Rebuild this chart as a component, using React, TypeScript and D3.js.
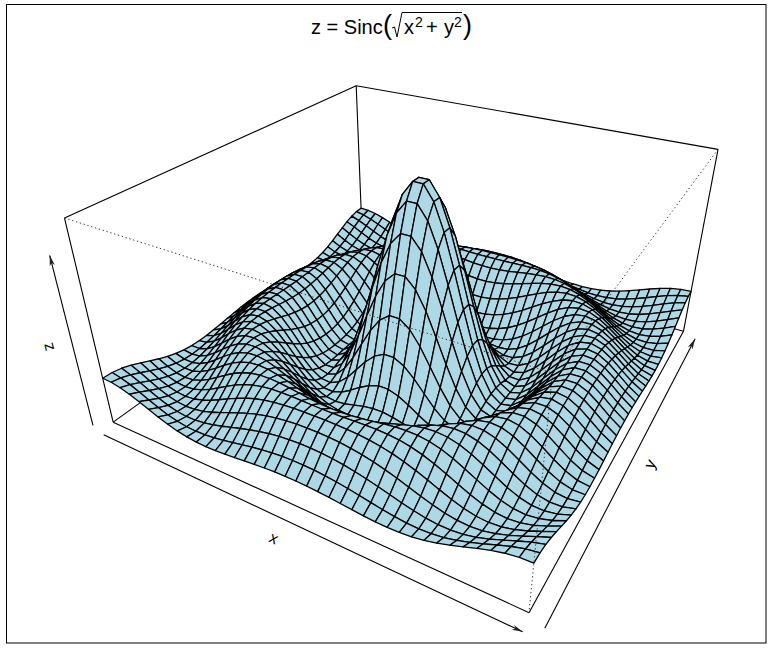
import React from "react";
import * as d3 from "d3";

// Sample positions along x and y (40 points across -10..10)
const gridValues = [-10,-9.487,-8.974,-8.462,-7.949,-7.436,-6.923,-6.41,-5.897,-5.385,-4.872,-4.359,-3.846,-3.333,-2.821,-2.308,-1.795,-1.282,-0.769,-0.256,0.256,0.769,1.282,1.795,2.308,2.821,3.333,3.846,4.359,4.872,5.385,5.897,6.41,6.923,7.436,7.949,8.462,8.974,9.487,10];

// Surface heights; the surface is mirror symmetric, so one octant is listed,
// row k holds columns k..19 counted outward from the centre.
const zRow0 = [.9782,.8940,.7385,.5354,.3148,.1075,-.0599,-.1697,-.2155,-.2022,-.1444,-.0629,.0205,.0867,.1231,.1251,.0967,.0481,-.0069,-.0547];
const zRow1 = [.8141,.6669,.4752,.2677,.0740,-.0806,-.1794,-.2167,-.1979,-.1374,-.0554,.0267,.0905,.1243,.1241,.0942,.0450,-.0098,-.0567];
const zRow2 = [.5354,.3650,.1822,.0140,-.1167,-.1951,-.2170,-.1881,-.1229,-.0407,.0384,.0976,.1263,.1218,.0891,.0388,-.0155,-.0606];
const zRow3 = [.2235,.0740,-.0599,-.1587,-.2103,-.2121,-.1709,-.1005,-.0192,.0548,.1068,.1280,.1174,.0809,.0294,-.0237,-.0660];
const zRow4 = [-.0373,-.1322,-.1951,-.2172,-.1979,-.1444,-.0704,.0078,.0742,.1164,.1281,.1102,.0694,.0170,-.0341,-.0724];
const zRow5 = [-.1879,-.2155,-.2093,-.1709,-.1080,-.0334,.0384,.0942,.1243,.1251,.0992,.0543,.0019,-.0460,-.0791];
const zRow6 = [-.2121,-.1827,-.1302,-.0629,.0078,.0696,.1119,.1283,.1174,.0837,.0357,-.0155,-.0587,-.0852];
const zRow7 = [-.1374,-.0779,-.0123,.0495,.0976,.1243,.1260,.1038,.0634,.0140,-.0341,-.0709,-.0897];
const zRow8 = [-.0192,.0384,.0867,.1183,.1283,.1158,.0837,.0388,-.0098,-.0526,-.0814,-.0913];
const zRow9 = [.0827,.1142,.1280,.1218,.0967,.0574,.0109,-.0341,-.0693,-.0887,-.0892];
const zRow10 = [.1276,.1241,.1038,.0694,.0263,-.0182,-.0567,-.0825,-.0913,-.0823];
const zRow11 = [.1060,.0752,.0357,-.0069,-.0460,-.0753,-.0901,-.0881,-.0704];
const zRow12 = [.0388,-.0011,-.0390,-.0693,-.0875,-.0906,-.0785,-.0535];
const zRow13 = [-.0365,-.0660,-.0852,-.0913,-.0832,-.0624,-.0323];
const zRow14 = [-.0844,-.0913,-.0856,-.0678,-.0407,-.0084];
const zRow15 = [-.0863,-.0704,-.0456,-.0152,.0162];
const zRow16 = [-.0472,-.0186,.0114,.0388];
const zRow17 = [.0098,.0362,.0569];
const zRow18 = [.0560,.0681];
const zRow19 = [.0707];
const zOctant = [zRow0,zRow1,zRow2,zRow3,zRow4,zRow5,zRow6,zRow7,zRow8,zRow9,zRow10,zRow11,zRow12,zRow13,zRow14,zRow15,zRow16,zRow17,zRow18,zRow19];

const THETA = (30 * Math.PI) / 180;
const PHI = (30 * Math.PI) / 180;
const R_VIEW = Math.sqrt(3);
const D_VIEW = 1;
const EXPAND = 0.5;

const n = gridValues.length;
const zAt = (i: number, j: number) => {
  const a = Math.abs(2 * i - (n - 1));
  const b = Math.abs(2 * j - (n - 1));
  const lo = (Math.min(a, b) - 1) / 2;
  const hi = (Math.max(a, b) - 1) / 2;
  return zOctant[lo][hi - lo];
};
const allZ = d3.range(n).flatMap((i) => d3.range(n).map((j) => zAt(i, j)));

const sx = d3.scaleLinear().domain(d3.extent(gridValues) as [number, number]).range([-1, 1]);
const sz = d3.scaleLinear().domain(d3.extent(allZ) as [number, number]).range([-EXPAND, EXPAND]);
const screenX = d3.scaleLinear().domain([0, 1]).range([421, 421 + 826]);
const screenY = d3.scaleLinear().domain([0, 1]).range([283.3, 283.3 - 826]);

type P = [number, number];
// model coordinates (x, y in -1..1, z in -expand..expand) to pixels, as R's persp does it
const project = (x: number, y: number, z: number): P => {
  const X = x * Math.cos(THETA) + y * Math.sin(THETA);
  const c = x * Math.sin(THETA) - y * Math.cos(THETA);
  const Y = z * Math.cos(PHI) - c * Math.sin(PHI);
  const Zc = z * Math.sin(PHI) + c * Math.cos(PHI);
  const w = (R_VIEW + 2 * D_VIEW - Zc) / D_VIEW;
  return [screenX(X / w), screenY(Y / w)];
};

const line = d3.line<P>();
const seg = (a: number[], b: number[]) =>
  line([project(a[0], a[1], a[2]), project(b[0], b[1], b[2])]) as string;

const T = EXPAND;
const solidEdges: number[][][] = [
  [[-1,-1,T],[-1,1,T]], [[-1,1,T],[1,1,T]], [[-1,-1,T],[-1,-1,-T]], [[1,1,T],[1,1,-T]], [[-1,1,T],[-1,1,-T]],
  [[-1,-1,-T],[1,-1,-T]], [[1,-1,-T],[1,1,-T]], [[-1,-1,-T],[-1,1,-T]], [[1,1,-T],[-1,1,-T]],
];
const dottedEdges: number[][][] = [
  [[-1,-1,T],[1,-1,T]], [[1,1,T],[1,-1,T]], [[1,-1,T],[1,-1,-T]],
];

const cells: { key: string; d: string }[] = [];
for (let i = 0; i < n - 1; i++) {
  for (let j = n - 2; j >= 0; j--) {
    const corner = (a: number, b: number) => project(sx(gridValues[a]), sx(gridValues[b]), sz(zAt(a, b)));
    const d = d3.line<P>().curve(d3.curveLinearClosed)([corner(i, j), corner(i + 1, j), corner(i + 1, j + 1), corner(i, j + 1)]) as string;
    cells.push({ key: `${i}-${j}`, d });
  }
}

const axisLines = [
  { name: "x", from: [-0.97, -1.08, -T], to: [1.012, -1.08, -T] },
  { name: "y", from: [1.07, -1.03, -T], to: [1.07, 0.96, -T] },
  { name: "z", from: [-1.06, -1.06, -T], to: [-1.06, -1.06, 0.35] },
];
const axisLabels = [
  { text: "x", px: 274, py: 538, rot: 25 },
  { text: "y", px: 650, py: 464, rot: -63 },
  { text: "z", px: 48, py: 347, rot: -104 },
];

const SANS = "'Liberation Sans', Arial, sans-serif";

function Arrow({ from, to }: { from: number[]; to: number[] }) {
  const a = project(from[0], from[1], from[2]);
  const b = project(to[0], to[1], to[2]);
  const ang = Math.atan2(b[1] - a[1], b[0] - a[0]);
  const len = 11;
  const spread = 0.24;
  const p1: P = [b[0] - len * Math.cos(ang - spread), b[1] - len * Math.sin(ang - spread)];
  const p2: P = [b[0] - len * Math.cos(ang + spread), b[1] - len * Math.sin(ang + spread)];
  const p3: P = [b[0] - 0.7 * len * Math.cos(ang), b[1] - 0.7 * len * Math.sin(ang)];
  return (
    <g>
      <path d={line([a, b]) as string} stroke="#000" strokeWidth={1.1} fill="none" />
      <path d={d3.line<P>().curve(d3.curveLinearClosed)([b, p1, p3, p2]) as string} fill="#222" stroke="none" />
    </g>
  );
}

export default function App() {
  return (
    <svg width={776} height={653} style={{ position: "absolute", left: 0, top: 0, display: "block", background: "#fff" }}>
      <rect x={6.5} y={4.5} width={759.5} height={638.5} fill="none" stroke="#000" strokeWidth={1} />

      {solidEdges.map((e, i) => (
        <path key={i} d={seg(e[0], e[1])} stroke="#000" strokeWidth={1.1} fill="none" />
      ))}

      {cells.map((c) => (
        <path key={c.key} d={c.d} fill="#ADD8E6" stroke="#000" strokeWidth={1.3} strokeLinejoin="round" />
      ))}

      {dottedEdges.map((e, i) => (
        <path key={i} d={seg(e[0], e[1])} stroke="#333" strokeWidth={1} strokeDasharray="1.3 2.7" fill="none" />
      ))}

      {axisLines.map((a) => (
        <Arrow key={a.name} from={a.from} to={a.to} />
      ))}
      {axisLabels.map((l) => (
        <text key={l.text} x={l.px} y={l.py} transform={`rotate(${l.rot} ${l.px} ${l.py})`} textAnchor="middle" dominantBaseline="central" fontFamily={SANS} fontSize={16} fill="#000">
          {l.text}
        </text>
      ))}

      <g fontFamily={SANS} fill="#000">
        <text x={311} y={34} fontSize={20}>z = Sinc</text>
        <text x={383} y={34} fontSize={27}>(</text>
        <path d="M392 28 L394.5 27 L397 37 L402 12.5 L462 12.5" fill="none" stroke="#000" strokeWidth={1} />
        <text x={404} y={34} fontSize={20}>x</text>
        <text x={415} y={27} fontSize={14}>2</text>
        <text x={426} y={34} fontSize={20}>+</text>
        <text x={444} y={34} fontSize={20}>y</text>
        <text x={454} y={27} fontSize={14}>2</text>
        <text x={463} y={34} fontSize={27}>)</text>
      </g>
    </svg>
  );
}
